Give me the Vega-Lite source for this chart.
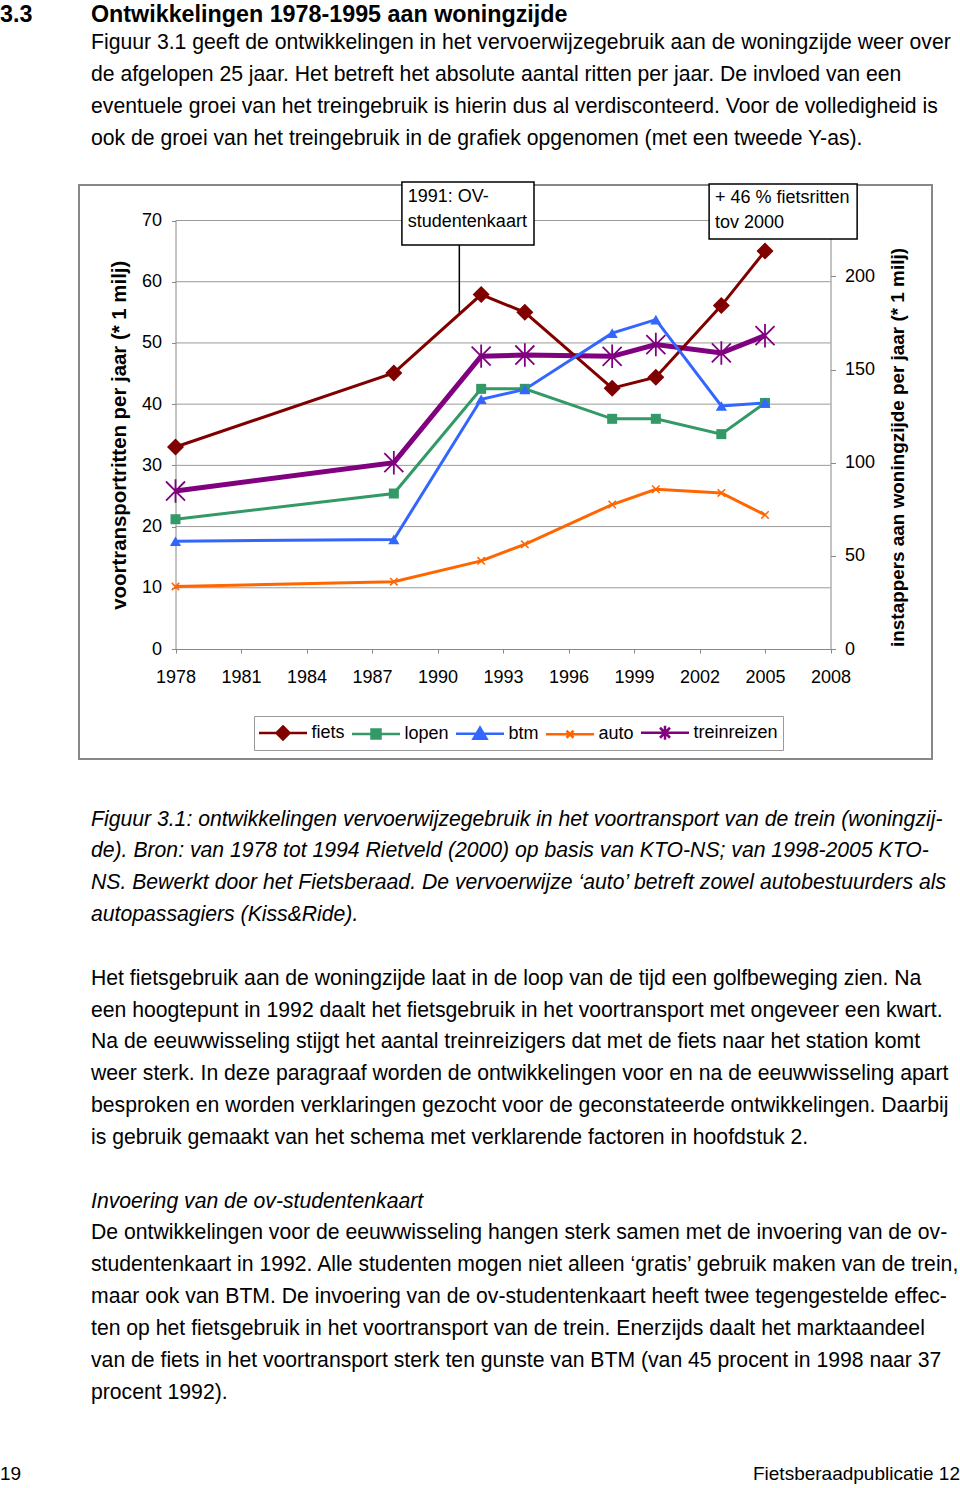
{
  "$schema": "https://vega.github.io/schema/vega-lite/v6.json",
  "background": "white",
  "padding": 0,
  "spacing": 0,
  "bounds": "flush",
  "config": {
    "view": {"stroke": null},
    "font": "Liberation Sans",
    "text": {"font": "Liberation Sans", "color": "black"},
    "axis": {"labelFont": "Liberation Sans", "titleFont": "Liberation Sans"},
    "legend": {"labelFont": "Liberation Sans"}
  },
  "datasets": {
    "ritten": [
      {"series": "fiets", "year": 1978, "value": 33.0},
      {"series": "fiets", "year": 1988, "value": 45.1},
      {"series": "fiets", "year": 1992, "value": 57.9},
      {"series": "fiets", "year": 1994, "value": 55.0},
      {"series": "fiets", "year": 1998, "value": 42.6},
      {"series": "fiets", "year": 2000, "value": 44.4},
      {"series": "fiets", "year": 2003, "value": 56.1},
      {"series": "fiets", "year": 2005, "value": 65.0},
      {"series": "lopen", "year": 1978, "value": 21.2},
      {"series": "lopen", "year": 1988, "value": 25.4},
      {"series": "lopen", "year": 1992, "value": 42.5},
      {"series": "lopen", "year": 1994, "value": 42.5},
      {"series": "lopen", "year": 1998, "value": 37.6},
      {"series": "lopen", "year": 2000, "value": 37.6},
      {"series": "lopen", "year": 2003, "value": 35.1},
      {"series": "lopen", "year": 2005, "value": 40.2},
      {"series": "btm", "year": 1978, "value": 17.6},
      {"series": "btm", "year": 1988, "value": 17.9},
      {"series": "btm", "year": 1992, "value": 40.8},
      {"series": "btm", "year": 1994, "value": 42.4},
      {"series": "btm", "year": 1998, "value": 51.6},
      {"series": "btm", "year": 2000, "value": 53.8},
      {"series": "btm", "year": 2003, "value": 39.7},
      {"series": "btm", "year": 2005, "value": 40.2},
      {"series": "auto", "year": 1978, "value": 10.2},
      {"series": "auto", "year": 1988, "value": 11.0},
      {"series": "auto", "year": 1992, "value": 14.4},
      {"series": "auto", "year": 1994, "value": 17.1},
      {"series": "auto", "year": 1998, "value": 23.6},
      {"series": "auto", "year": 2000, "value": 26.1},
      {"series": "auto", "year": 2003, "value": 25.5},
      {"series": "auto", "year": 2005, "value": 21.9}
    ],
    "trein": [
      {"series": "treinreizen", "year": 1978, "value": 84.8},
      {"series": "treinreizen", "year": 1988, "value": 100.0},
      {"series": "treinreizen", "year": 1992, "value": 157.2},
      {"series": "treinreizen", "year": 1994, "value": 157.8},
      {"series": "treinreizen", "year": 1998, "value": 157.1},
      {"series": "treinreizen", "year": 2000, "value": 163.4},
      {"series": "treinreizen", "year": 2003, "value": 158.9},
      {"series": "treinreizen", "year": 2005, "value": 168.2}
    ]
  },
  "vconcat": [
    {
      "width": 853,
      "height": 185,
      "layer": [
        {
          "data": {"values": [{"line": 0, "text": "3.3"}]},
          "mark": {"type": "text", "align": "left", "baseline": "alphabetic", "fontSize": 23.3, "fontWeight": "bold", "color": "black", "dy": 5.1},
          "encoding": {
            "x": {"datum": 0, "type": "quantitative", "scale": {"domain": [0, 1, 2], "range": [-79, 12, 881], "nice": false, "zero": false}, "axis": null},
            "y": {"field": "line", "type": "quantitative", "scale": {"domain": [1, 4], "range": [48.7, 144.7], "nice": false, "zero": false}, "axis": null},
            "text": {"field": "text"}
          }
        },
        {
          "data": {"values": [{"line": 0, "text": "Ontwikkelingen 1978-1995 aan woningzijde"}]},
          "mark": {"type": "text", "align": "left", "baseline": "alphabetic", "fontSize": 23.3, "fontWeight": "bold", "color": "black", "dy": 5.1},
          "encoding": {
            "x": {"datum": 1, "type": "quantitative", "scale": {"domain": [0, 1, 2], "range": [-79, 12, 881], "nice": false, "zero": false}, "axis": null},
            "y": {"field": "line", "type": "quantitative", "scale": {"domain": [1, 4], "range": [48.7, 144.7], "nice": false, "zero": false}, "axis": null},
            "text": {"field": "text"}
          }
        },
        {
          "data": {"values": [
            {"line": 1, "text": "Figuur 3.1 geeft de ontwikkelingen in het vervoerwijzegebruik aan de woningzijde weer over"},
            {"line": 2, "text": "de afgelopen 25 jaar. Het betreft het absolute aantal ritten per jaar. De invloed van een"},
            {"line": 3, "text": "eventuele groei van het treingebruik is hierin dus al verdisconteerd. Voor de volledigheid is"},
            {"line": 4, "text": "ook de groei van het treingebruik in de grafiek opgenomen (met een tweede Y-as)."}
          ]},
          "mark": {"type": "text", "align": "left", "baseline": "alphabetic", "fontSize": 21.2, "color": "black"},
          "encoding": {
            "x": {"datum": 1, "type": "quantitative", "scale": {"domain": [0, 1, 2], "range": [-79, 12, 881], "nice": false, "zero": false}, "axis": null},
            "y": {"field": "line", "type": "quantitative", "scale": {"domain": [1, 4], "range": [48.7, 144.7], "nice": false, "zero": false}, "axis": null},
            "text": {"field": "text"}
          }
        }
      ]
    },
    {
      "width": 853,
      "height": 574,
      "view": {"stroke": "#888888", "strokeWidth": 2},
      "resolve": {"scale": {"y": "independent"}, "axis": {"y": "independent"}},
      "layer": [
        {
          "data": {"values": [{"v": 10}, {"v": 20}, {"v": 30}, {"v": 40}, {"v": 50}, {"v": 60}, {"v": 70}]},
          "mark": {"type": "rule", "color": "#9a9a9a", "strokeWidth": 1},
          "encoding": {
            "x": {"datum": 1978, "type": "quantitative", "scale": {"domain": [1978, 2008], "range": [96.5, 751.5], "nice": false, "zero": false},
              "axis": {"orient": "bottom", "offset": -110, "values": [1978, 1981, 1984, 1987, 1990, 1993, 1996, 1999, 2002, 2005, 2008], "format": "d", "title": null, "grid": false, "domainColor": "#888888", "tickColor": "#888888", "tickSize": 4, "labelFontSize": 18, "labelColor": "black", "labelPadding": 15, "labelFlush": false, "labelOverlap": false}},
            "x2": {"datum": 2008},
            "y": {"field": "v", "type": "quantitative", "scale": {"domain": [0, 70], "range": [464, 35.5], "nice": false, "zero": false},
              "axis": {"orient": "left", "offset": -96.5, "values": [0, 10, 20, 30, 40, 50, 60, 70], "grid": false, "title": "voortransportritten per jaar (* 1 milj)", "titleFontSize": 20.4, "titleFontWeight": "bold", "titleColor": "black", "titlePadding": 12, "domainColor": "#888888", "tickColor": "#888888", "tickSize": 4, "labelFontSize": 18, "labelColor": "black", "labelPadding": 10, "labelFlush": false}}
          }
        },
        {
          "data": {"name": "trein"},
          "layer": [
            {
              "mark": {"type": "line", "strokeWidth": 5},
              "encoding": {
                "x": {"field": "year", "type": "quantitative", "scale": {"domain": [1978, 2008], "range": [96.5, 751.5], "nice": false, "zero": false}},
                "y": {"field": "value", "type": "quantitative", "scale": {"domain": [0, 230], "range": [464, 35.5], "nice": false, "zero": false},
                  "axis": {"orient": "right", "offset": -101.5, "values": [0, 50, 100, 150, 200], "grid": false, "title": "instappers aan woningzijde per jaar (* 1 milj)", "titleAngle": 270, "titleAlign": "center", "titleBaseline": "middle", "titleFontSize": 18.9, "titleFontWeight": "bold", "titleColor": "black", "titleX": 66.5, "titleY": 262, "domainColor": "#888888", "tickColor": "#888888", "tickSize": 5, "labelFontSize": 18, "labelColor": "black", "labelPadding": 9, "labelFlush": false}},
                "color": {"field": "series", "type": "nominal", "scale": {"domain": ["fiets", "lopen", "btm", "auto", "treinreizen"], "range": ["#800000", "#339966", "#3366ff", "#ff6600", "#800080"]}}
              }
            },
            {
              "mark": {"type": "point", "shape": "M-0.85,-0.85L0.85,0.85M-0.85,0.85L0.85,-0.85M0,-1.05L0,1.05", "size": 500, "filled": false, "strokeWidth": 1.8, "color": "#800080", "opacity": 1},
              "encoding": {
                "x": {"field": "year", "type": "quantitative", "scale": {"domain": [1978, 2008], "range": [96.5, 751.5], "nice": false, "zero": false}},
                "y": {"field": "value", "type": "quantitative", "scale": {"domain": [0, 230], "range": [464, 35.5], "nice": false, "zero": false}}
              }
            }
          ]
        },
        {
          "layer": [
            {
              "data": {"values": [{}]},
              "mark": {"type": "rule", "color": "black", "strokeWidth": 1.5},
              "encoding": {
                "x": {"datum": 1991, "type": "quantitative", "scale": {"domain": [1978, 2008], "range": [96.5, 751.5], "nice": false, "zero": false}},
                "y": {"datum": 54.7, "type": "quantitative", "scale": {"domain": [0, 70], "range": [464, 35.5], "nice": false, "zero": false}, "axis": null},
                "y2": {"datum": 66.0}
              }
            },
            {
              "data": {"name": "ritten"},
              "mark": {"type": "line", "strokeWidth": 3},
              "encoding": {
                "x": {"field": "year", "type": "quantitative", "scale": {"domain": [1978, 2008], "range": [96.5, 751.5], "nice": false, "zero": false}},
                "y": {"field": "value", "type": "quantitative", "scale": {"domain": [0, 70], "range": [464, 35.5], "nice": false, "zero": false}, "axis": null},
                "color": {"field": "series", "type": "nominal",
                  "scale": {"domain": ["fiets", "lopen", "btm", "auto", "treinreizen"], "range": ["#800000", "#339966", "#3366ff", "#ff6600", "#800080"]},
                  "legend": {
                    "orient": "none", "legendX": 175, "legendY": 716, "direction": "horizontal", "title": null,
                    "strokeColor": "#999999", "fillColor": "white", "padding": 5,
                    "symbolSize": 400, "symbolStrokeWidth": 2.5, "symbolOffset": 12.5, "labelOffset": 17,
                    "labelFontSize": 18, "labelColor": "black", "columnPadding": 2,
                    "encode": {
                      "symbols": {
                        "update": {
                          "shape": {"signal": "datum.value === 'fiets' ? 'M-2.4,0L2.4,0M0,-0.65L0.65,0L0,0.65L-0.65,0Z' : datum.value === 'lopen' ? 'M-2.4,0L2.4,0M-0.45,-0.45L0.45,-0.45L0.45,0.45L-0.45,0.45Z' : datum.value === 'btm' ? 'M-2.4,0L2.4,0M0,-0.6L0.65,0.5L-0.65,0.5Z' : datum.value === 'auto' ? 'M-2.4,0L2.4,0M-0.35,-0.35L0.35,0.35M-0.35,0.35L0.35,-0.35' : 'M-2.4,0L2.4,0M-0.5,-0.5L0.5,0.5M-0.5,0.5L0.5,-0.5M0,-0.7L0,0.7'"},
                          "fill": {"signal": "datum.value === 'fiets' ? '#800000' : datum.value === 'lopen' ? '#339966' : datum.value === 'btm' ? '#3366ff' : datum.value === 'auto' ? '#ff6600' : '#800080'"},
                          "stroke": {"signal": "datum.value === 'fiets' ? '#800000' : datum.value === 'lopen' ? '#339966' : datum.value === 'btm' ? '#3366ff' : datum.value === 'auto' ? '#ff6600' : '#800080'"},
                          "strokeWidth": {"value": 2.5},
                          "opacity": {"value": 1}
                        }
                      }
                    }
                  }
                }
              }
            },
            {
              "data": {"name": "ritten"},
              "transform": [{"filter": "datum.series === 'fiets'"}],
              "mark": {"type": "point", "shape": "diamond", "size": 290, "filled": true, "color": "#800000", "opacity": 1},
              "encoding": {
                "x": {"field": "year", "type": "quantitative", "scale": {"domain": [1978, 2008], "range": [96.5, 751.5], "nice": false, "zero": false}},
                "y": {"field": "value", "type": "quantitative", "scale": {"domain": [0, 70], "range": [464, 35.5], "nice": false, "zero": false}, "axis": null}
              }
            },
            {
              "data": {"name": "ritten"},
              "transform": [{"filter": "datum.series === 'lopen'"}],
              "mark": {"type": "point", "shape": "square", "size": 100, "filled": true, "color": "#339966", "opacity": 1},
              "encoding": {
                "x": {"field": "year", "type": "quantitative", "scale": {"domain": [1978, 2008], "range": [96.5, 751.5], "nice": false, "zero": false}},
                "y": {"field": "value", "type": "quantitative", "scale": {"domain": [0, 70], "range": [464, 35.5], "nice": false, "zero": false}, "axis": null}
              }
            },
            {
              "data": {"name": "ritten"},
              "transform": [{"filter": "datum.series === 'btm'"}],
              "mark": {"type": "point", "shape": "triangle-up", "size": 125, "filled": true, "color": "#3366ff", "opacity": 1},
              "encoding": {
                "x": {"field": "year", "type": "quantitative", "scale": {"domain": [1978, 2008], "range": [96.5, 751.5], "nice": false, "zero": false}},
                "y": {"field": "value", "type": "quantitative", "scale": {"domain": [0, 70], "range": [464, 35.5], "nice": false, "zero": false}, "axis": null}
              }
            },
            {
              "data": {"name": "ritten"},
              "transform": [{"filter": "datum.series === 'auto'"}],
              "mark": {"type": "point", "shape": "M-1,-1L1,1M-1,1L1,-1", "size": 55, "filled": false, "strokeWidth": 1.5, "color": "#ff6600", "opacity": 1},
              "encoding": {
                "x": {"field": "year", "type": "quantitative", "scale": {"domain": [1978, 2008], "range": [96.5, 751.5], "nice": false, "zero": false}},
                "y": {"field": "value", "type": "quantitative", "scale": {"domain": [0, 70], "range": [464, 35.5], "nice": false, "zero": false}, "axis": null}
              }
            },
            {
              "data": {"values": [{}]},
              "mark": {"type": "rect", "fill": "white", "stroke": "black", "strokeWidth": 1.5},
              "encoding": {
                "x": {"datum": 1988.37, "type": "quantitative", "scale": {"domain": [1978, 2008], "range": [96.5, 751.5], "nice": false, "zero": false}},
                "x2": {"datum": 1994.42},
                "y": {"datum": 76.29, "type": "quantitative", "scale": {"domain": [0, 70], "range": [464, 35.5], "nice": false, "zero": false}, "axis": null},
                "y2": {"datum": 66.0}
              }
            },
            {
              "data": {"values": [{}]},
              "mark": {"type": "rect", "fill": "white", "stroke": "black", "strokeWidth": 1.5},
              "encoding": {
                "x": {"datum": 2002.44, "type": "quantitative", "scale": {"domain": [1978, 2008], "range": [96.5, 751.5], "nice": false, "zero": false}},
                "x2": {"datum": 2009.22},
                "y": {"datum": 75.96, "type": "quantitative", "scale": {"domain": [0, 70], "range": [464, 35.5], "nice": false, "zero": false}, "axis": null},
                "y2": {"datum": 66.97}
              }
            },
            {
              "data": {"values": [{}]},
              "mark": {"type": "text", "align": "left", "baseline": "alphabetic", "fontSize": 18, "lineHeight": 25, "color": "black", "text": ["1991: OV-", "studentenkaart"]},
              "encoding": {
                "x": {"datum": 1988.64, "type": "quantitative", "scale": {"domain": [1978, 2008], "range": [96.5, 751.5], "nice": false, "zero": false}},
                "y": {"datum": 73.02, "type": "quantitative", "scale": {"domain": [0, 70], "range": [464, 35.5], "nice": false, "zero": false}, "axis": null}
              }
            },
            {
              "data": {"values": [{}]},
              "mark": {"type": "text", "align": "left", "baseline": "alphabetic", "fontSize": 18, "lineHeight": 25, "color": "black", "text": ["+ 46 % fietsritten", "tov 2000"]},
              "encoding": {
                "x": {"datum": 2002.71, "type": "quantitative", "scale": {"domain": [1978, 2008], "range": [96.5, 751.5], "nice": false, "zero": false}},
                "y": {"datum": 72.86, "type": "quantitative", "scale": {"domain": [0, 70], "range": [464, 35.5], "nice": false, "zero": false}, "axis": null}
              }
            }
          ]
        }
      ]
    },
    {
      "width": 853,
      "height": 729,
      "layer": [
        {
          "data": {"values": [
            {"line": 0, "text": "Figuur 3.1: ontwikkelingen vervoerwijzegebruik in het voortransport van de trein (woningzij-"},
            {"line": 1, "text": "de). Bron: van 1978 tot 1994 Rietveld (2000) op basis van KTO-NS; van 1998-2005 KTO-"},
            {"line": 2, "text": "NS. Bewerkt door het Fietsberaad. De vervoerwijze ‘auto’ betreft zowel autobestuurders als"},
            {"line": 3, "text": "autopassagiers (Kiss&Ride)."},
            {"line": 12, "text": "Invoering van de ov-studentenkaart"}
          ]},
          "mark": {"type": "text", "align": "left", "baseline": "alphabetic", "fontSize": 21.2, "fontStyle": "italic", "color": "black"},
          "encoding": {
            "x": {"datum": 1, "type": "quantitative", "scale": {"domain": [0, 1, 2], "range": [-79, 12, 881], "nice": false, "zero": false}, "axis": null},
            "y": {"field": "line", "type": "quantitative", "scale": {"domain": [0, 18], "range": [66.5, 639.5], "nice": false, "zero": false}, "axis": null},
            "text": {"field": "text"}
          }
        },
        {
          "data": {"values": [
            {"line": 5, "text": "Het fietsgebruik aan de woningzijde laat in de loop van de tijd een golfbeweging zien. Na"},
            {"line": 6, "text": "een hoogtepunt in 1992 daalt het fietsgebruik in het voortransport met ongeveer een kwart."},
            {"line": 7, "text": "Na de eeuwwisseling stijgt het aantal treinreizigers dat met de fiets naar het station komt"},
            {"line": 8, "text": "weer sterk. In deze paragraaf worden de ontwikkelingen voor en na de eeuwwisseling apart"},
            {"line": 9, "text": "besproken en worden verklaringen gezocht voor de geconstateerde ontwikkelingen. Daarbij"},
            {"line": 10, "text": "is gebruik gemaakt van het schema met verklarende factoren in hoofdstuk 2."},
            {"line": 13, "text": "De ontwikkelingen voor de eeuwwisseling hangen sterk samen met de invoering van de ov-"},
            {"line": 14, "text": "studentenkaart in 1992. Alle studenten mogen niet alleen ‘gratis’ gebruik maken van de trein,"},
            {"line": 15, "text": "maar ook van BTM. De invoering van de ov-studentenkaart heeft twee tegengestelde effec-"},
            {"line": 16, "text": "ten op het fietsgebruik in het voortransport van de trein. Enerzijds daalt het marktaandeel"},
            {"line": 17, "text": "van de fiets in het voortransport sterk ten gunste van BTM (van 45 procent in 1998 naar 37"},
            {"line": 18, "text": "procent 1992)."}
          ]},
          "mark": {"type": "text", "align": "left", "baseline": "alphabetic", "fontSize": 21.2, "color": "black"},
          "encoding": {
            "x": {"datum": 1, "type": "quantitative", "scale": {"domain": [0, 1, 2], "range": [-79, 12, 881], "nice": false, "zero": false}, "axis": null},
            "y": {"field": "line", "type": "quantitative", "scale": {"domain": [0, 18], "range": [66.5, 639.5], "nice": false, "zero": false}, "axis": null},
            "text": {"field": "text"}
          }
        },
        {
          "data": {"values": [{"line": 20.57, "text": "19"}]},
          "mark": {"type": "text", "align": "left", "baseline": "alphabetic", "fontSize": 19, "color": "black"},
          "encoding": {
            "x": {"datum": 0, "type": "quantitative", "scale": {"domain": [0, 1, 2], "range": [-79, 12, 881], "nice": false, "zero": false}, "axis": null},
            "y": {"field": "line", "type": "quantitative", "scale": {"domain": [0, 18], "range": [66.5, 639.5], "nice": false, "zero": false}, "axis": null},
            "text": {"field": "text"}
          }
        },
        {
          "data": {"values": [{"line": 20.57, "text": "Fietsberaadpublicatie 12"}]},
          "mark": {"type": "text", "align": "right", "baseline": "alphabetic", "fontSize": 19, "color": "black"},
          "encoding": {
            "x": {"datum": 2, "type": "quantitative", "scale": {"domain": [0, 1, 2], "range": [-79, 12, 881], "nice": false, "zero": false}, "axis": null},
            "y": {"field": "line", "type": "quantitative", "scale": {"domain": [0, 18], "range": [66.5, 639.5], "nice": false, "zero": false}, "axis": null},
            "text": {"field": "text"}
          }
        }
      ]
    }
  ]
}
